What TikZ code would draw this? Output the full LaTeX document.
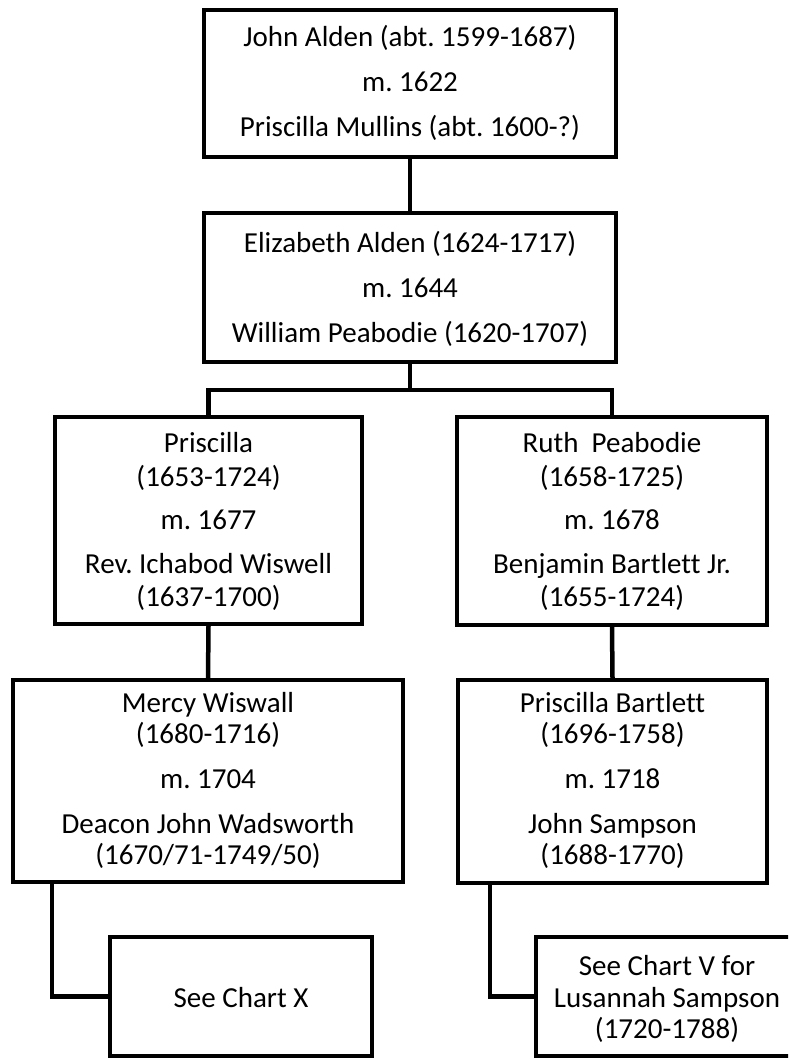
\documentclass[tikz,border=0pt]{standalone}
\usepackage{fontspec}
\setmainfont{Carlito}[Ligatures=NoCommon]
\frenchspacing
\begin{document}
\begin{tikzpicture}[x=1pt,y=-1pt,
  box/.style={draw=black,line width=4pt,fill=white,inner sep=0pt},
  conn/.style={draw=black,line width=4.5pt},
  txt/.style={anchor=base,inner sep=0pt,text=black,font=\fontsize{29}{33}\selectfont}]
\useasboundingbox (0,0) rectangle (788,1059);
\clip (0,0) rectangle (788,1059);
\fill[white] (0,0) rectangle (788,1059);

% boxes
\node[box,minimum width=412pt,minimum height=147pt] (b1) at (410,83.5) {};
\node[box,minimum width=412pt,minimum height=149pt] (b2) at (410,287.5) {};
\node[box,minimum width=307pt,minimum height=207pt] (b3) at (208.5,520.5) {};
\node[box,minimum width=310pt,minimum height=208pt] (b4) at (612,521) {};
\node[box,minimum width=390pt,minimum height=202pt] (b5) at (208,781) {};
\node[box,minimum width=309pt,minimum height=203pt] (b6) at (612.5,781.5) {};
\node[box,minimum width=262pt,minimum height=119pt] (b7) at (241,996.5) {};
\node[box,minimum width=262pt,minimum height=119pt] (b8) at (667,996.5) {};

% connectors
\coordinate (bar) at (410,390);
\draw[conn] (b1.south) -- (b2.north);
\draw[conn] (b2.south) -- (bar);
\draw[conn] (b3.north) |- (bar) -| (b4.north);
\draw[conn] (b3.south) -- (b5.north);
\draw[conn] (b4.south) -- (b6.north);
\draw[conn] ([xshift=-156pt]b5.south) |- (b7.west);
\draw[conn] ([xshift=-122.5pt]b6.south) |- (b8.west);

% texts
\node[txt] (t1a) at (410,47) {John Alden (abt. 1599-1687)};
\node[txt] (t1b) at (410,92) {m. 1622};
\node[txt] (t1c) at (410,137) {Priscilla Mullins (abt. 1600-?)};

\node[txt] (t2a) at (410,252) {Elizabeth Alden (1624-1717)};
\node[txt] (t2b) at (410,297) {m. 1644};
\node[txt] (t2c) at (410,342) {William Peabodie (1620-1707)};

\node[txt] (t3a) at (208.5,452) {Priscilla};
\node[txt] (t3b) at (208.5,486) {(1653-1724)};
\node[txt] (t3c) at (208.5,529) {m. 1677};
\node[txt] (t3d) at (208.5,573) {Rev. Ichabod Wiswell};
\node[txt] (t3e) at (208.5,606) {(1637-1700)};

\node[txt] (t4a) at (612,452) {Ruth~~Peabodie};
\node[txt] (t4b) at (612,486) {(1658-1725)};
\node[txt] (t4c) at (612,529) {m. 1678};
\node[txt] (t4d) at (612,573) {Benjamin Bartlett Jr.};
\node[txt] (t4e) at (612,606) {(1655-1724)};

\node[txt] (t5a) at (208,712) {Mercy Wiswall};
\node[txt] (t5b) at (208,743) {(1680-1716)};
\node[txt] (t5c) at (208,788) {m. 1704};
\node[txt] (t5d) at (208,833) {Deacon John Wadsworth};
\node[txt] (t5e) at (208,864) {(1670/71-1749/50)};

\node[txt] (t6a) at (612.5,712) {Priscilla Bartlett};
\node[txt] (t6b) at (612.5,743) {(1696-1758)};
\node[txt] (t6c) at (612.5,788) {m. 1718};
\node[txt] (t6d) at (612.5,833) {John Sampson};
\node[txt] (t6e) at (612.5,864) {(1688-1770)};

\node[txt] (t7a) at (241,1007) {See Chart X};

\node[txt] (t8a) at (667,975) {See Chart V for};
\node[txt] (t8b) at (667,1007) {Lusannah Sampson};
\node[txt] (t8c) at (667,1038) {(1720-1788)};
\end{tikzpicture}
\end{document}
